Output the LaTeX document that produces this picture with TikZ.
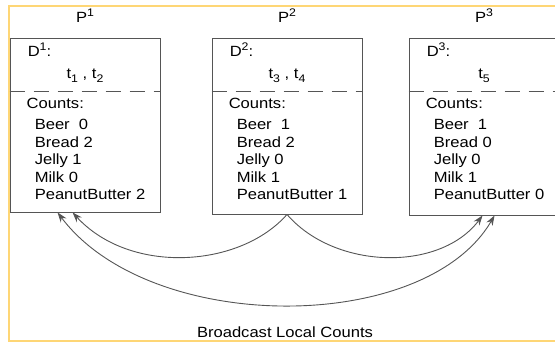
\documentclass[tikz,border=0pt]{standalone}
\usepackage{fontspec}
\setmainfont{Liberation Sans}[FakeStretch=1.12]
\usetikzlibrary{arrows.meta,calc}
\definecolor{framey}{RGB}{254,214,117}
\definecolor{linegray}{RGB}{85,85,85}
\newcommand{\upidx}[1]{\raisebox{0.42em}{\fontsize{11}{12}\selectfont #1}}
\newcommand{\loidx}[1]{\raisebox{-0.28em}{\fontsize{11}{12}\selectfont #1}}
\tikzstyle{procbox}=[rectangle,draw=linegray,line width=0.9pt,minimum width=150pt,inner sep=0pt]
\tikzstyle{txt}=[anchor=base west,inner sep=0pt,font=\fontsize{14.8}{16}\selectfont]
\tikzstyle{sep}=[draw=linegray,line width=0.9pt,dash pattern=on 15pt off 9pt]
\tikzstyle{bcast}=[draw=linegray,line width=0.9pt,-{Stealth[length=10pt,width=7pt]}]

\begin{document}
\begin{tikzpicture}[x=1pt,y=-1pt]
    \useasboundingbox (0,0) rectangle (555,343);
    \clip (0,0) rectangle (555,343);
    % outer frame
    \draw[framey,line width=2.4pt] (565,6) -- (9,6) -- (9,341) -- (565,341);

    % First the three processor boxes
    \foreach \name/\cx/\cy/\h in {box1/85/125/174, box2/287/126/176, box3/484/126.5/177}
        \node[procbox,minimum height=\h pt] (\name) at (\cx,\cy) {};

    % then the text in each box
    \foreach \name/\dnum/\tids/\ca/\cb/\cc/\cd/\ce in {
    {box1/1/{t\loidx{1} , t\loidx{2}}/0/2/1/0/2},
    {box2/2/{t\loidx{3} , t\loidx{4}}/1/2/0/1/1},
    {box3/3/{t\loidx{5}}/1/0/0/1/0}}
    {
        \node[txt,anchor=base] (\name-p) at ($(\name.north)+(0,-15)$) {P\upidx{\dnum}};
        \node[txt] (\name-d) at ($(\name.north west)+(18,19)$) {D\upidx{\dnum}:};
        \node[txt,anchor=base] (\name-t) at ($(\name.north)+(0,41)$) {\tids};
        \draw[sep] ($(\name.north west)+(0,54)$) -- ($(\name.north east)+(0,54)$);
        \node[txt] (\name-c) at ($(\name.north west)+(17,71)$) {Counts:};
        \node[txt] (\name-i1) at ($(\name.north west)+(25,92)$) {Beer\ \ \ca};
        \node[txt] (\name-i2) at ($(\name.north west)+(25,109.5)$) {Bread \cb};
        \node[txt] (\name-i3) at ($(\name.north west)+(25,127)$) {Jelly \cc};
        \node[txt] (\name-i4) at ($(\name.north west)+(25,144.5)$) {Milk \cd};
        \node[txt] (\name-i5) at ($(\name.north west)+(25,162)$) {PeanutButter \ce};
    }

    % Connect the boxes
    \draw[bcast] (box2.south) .. controls (240,268) and (130,275) .. ([xshift=63pt]box1.south west);
    \draw[bcast] (box2.south) .. controls (335,270) and (440,272) .. ([xshift=74pt]box3.south west);
    \draw[bcast,{Stealth[length=10pt,width=7pt]}-{Stealth[length=10pt,width=7pt]}]
        ([xshift=48pt]box1.south west) .. controls (150,335) and (425,335) .. ([xshift=86pt]box3.south west);

    \node[txt,anchor=base] (caption) at (285,337) {Broadcast Local Counts};
\end{tikzpicture}
\end{document}
